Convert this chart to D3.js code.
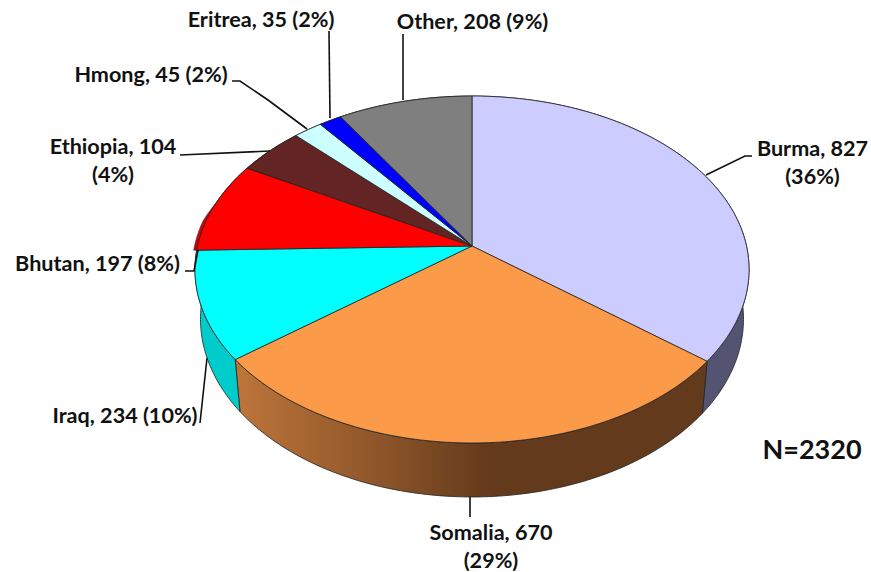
<!DOCTYPE html>
<html><head><meta charset="utf-8">
<script src="https://cdn.jsdelivr.net/npm/d3@7"></script>
<style>html,body{margin:0;background:#fff}svg{display:block}text{font-family:Lato,sans-serif;font-weight:700;fill:#111}</style>
</head><body><svg id="c" width="871" height="572"></svg>
<script>
const categories=["Burma","Somalia","Iraq","Bhutan","Ethiopia","Hmong","Eritrea","Other"];
const values=[827,670,234,197,104,45,35,208];
const topColors=["#ccccff","#fb9a48","#00ffff","#ff0000","#632523","#ccffff","#0000ff","#7f7f7f"];
const sideColors=["#545472","url(#som)","#00cccc","#c80000","#4a1b1a","#99cccc","#0000c0","#606060"];
const labelLines=[["Burma, 827","(36%)"],["Somalia, 670","(29%)"],["Iraq, 234 (10%)"],["Bhutan, 197 (8%)"],["Ethiopia, 104","(4%)"],["Hmong, 45 (2%)"],["Eritrea, 35 (2%)"],["Other, 208 (9%)"]];
const labelCentres=[[812.5,156],[491,540],[125,423],[97.5,271],[113,154],[151,82],[261,27],[472.5,29]];
const leaders=[[[706,175],[745,156],[752,156]],[[470,497],[470,517]],[[207,358],[200,423]],[[198,250],[194,271],[185,271]],[[180,155],[270,151]],[[232,81],[240,81],[268,100],[307,129]],[[329,31],[330,118]],[[403,34],[403,100]]];

const svg=d3.select("#c");
const defs=svg.append("defs");
const g=defs.append("linearGradient").attr("id","som").attr("gradientUnits","userSpaceOnUse").attr("x1",236).attr("x2",490).attr("y1",0).attr("y2",0);
g.append("stop").attr("offset",0).attr("stop-color","#bd753a");
g.append("stop").attr("offset",0.5).attr("stop-color","#93592b");
g.append("stop").attr("offset",1).attr("stop-color","#633a1c");

// perspective projection of the disc
const k=0.1354, cx=472, cy=246, A=274.5, B=170.3, wallScale=0.98;
const project=(ang,wall)=>{
  const u=Math.sin(ang), v=-Math.cos(ang), f=1/(1-k*v);
  const X=A*u*f, Y=B*v*f;
  return wall?[cx+X*wallScale,cy+Y+48.7+5.3*v]:[cx+X,cy+Y];
};
const arcs=d3.pie().sort(null).value(d=>d)(values);
const steps=(a,b)=>d3.range(0,1.0001,1/Math.max(2,Math.ceil((b-a)*60))).map(t=>a+(b-a)*t);
const line=d3.line();

// side walls
arcs.forEach((d,i)=>{
  const s=steps(d.startAngle,d.endAngle);
  const pts=s.map(a=>project(a,false)).concat(s.slice().reverse().map(a=>project(a,true)));
  svg.append("path").attr("d",line(pts)+"Z").attr("fill",sideColors[i]).attr("stroke","#222").attr("stroke-width",0.8).attr("stroke-linejoin","round");
});
// sliver of the Bhutan wall showing outside the rim on the left
const bh=arcs[categories.indexOf("Bhutan")];
const bhEnd=bh.startAngle+(bh.endAngle-bh.startAngle)*0.55;
const bhAngles=steps(bh.startAngle,bhEnd);
const sliver=bhAngles.map(a=>project(a,false)).concat(bhAngles.slice().reverse().map(a=>{
  const p=project(a,false), t=1-(a-bh.startAngle)/(bhEnd-bh.startAngle);
  return [p[0]-3*Math.min(1,t*2.5)*(t>0?1:0),p[1]];
}));
svg.append("path").attr("d",line(sliver)+"Z").attr("fill","#d80000").attr("stroke","#333").attr("stroke-width",0.6);
// top slices
arcs.forEach((d,i)=>{
  const pts=[[cx,cy]].concat(steps(d.startAngle,d.endAngle).map(a=>project(a,false)));
  svg.append("path").attr("d",line(pts)+"Z").attr("fill",topColors[i]).attr("stroke","#222").attr("stroke-width",0.8).attr("stroke-linejoin","round");
});
// leaders
leaders.forEach(p=>svg.append("path").attr("d",line(p)).attr("fill","none").attr("stroke","#111").attr("stroke-width",1.6));
// labels
categories.forEach((c,i)=>{
  const t=svg.append("text").attr("x",labelCentres[i][0]).attr("y",labelCentres[i][1]).attr("text-anchor","middle").attr("font-size",21.6);
  labelLines[i].forEach((l,j)=>t.append("tspan").attr("x",labelCentres[i][0]).attr("dy",j?28:0).text(l));
});
svg.append("text").attr("x",812).attr("y",459).attr("text-anchor","middle").attr("font-size",27).text("N=2320");
</script></body></html>
